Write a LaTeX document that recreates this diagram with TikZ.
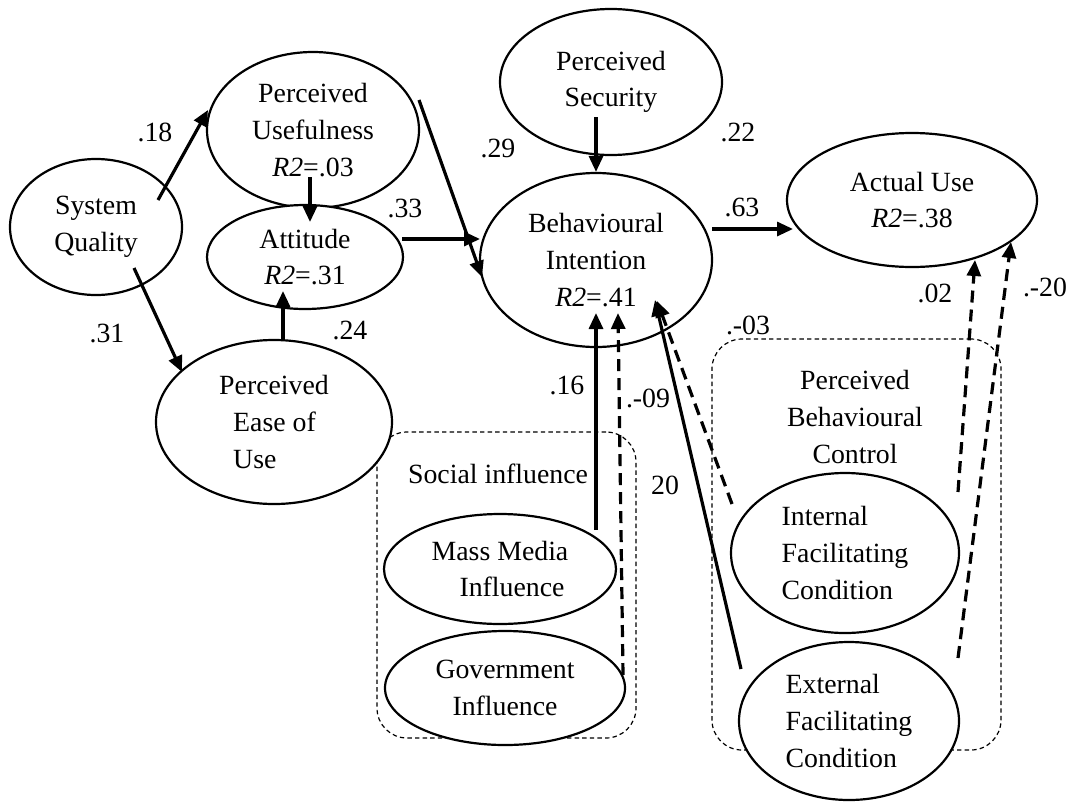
\documentclass[tikz,border=0pt]{standalone}
\usepackage{fontspec}
\setmainfont{Liberation Serif}
\usetikzlibrary{arrows.meta,shapes.geometric}
\newcommand{\rsq}[1]{\textit{R2}=#1}
\tikzset{
	var/.style={ellipse,draw,fill=white,line width=1.1pt,inner sep=0pt,align=center},
	grp/.style={rectangle,draw,line width=0.6pt,dash pattern=on 2.2pt off 1.6pt,rounded corners=15pt,inner sep=0pt},
	arr/.style={-{Triangle[length=8pt,width=7pt]},line width=1.6pt},
	darr/.style={arr,dash pattern=on 6pt off 3.5pt}
}

\begin{document}
\begin{tikzpicture}[x=0.5pt,y=-0.5pt,font=\fontsize{13.9}{18.3}\selectfont]
	\useasboundingbox (0,0) rectangle (1070,809);
	\node[grp,minimum width=129.5pt,minimum height=153pt] (social) at (506.5,585) {};
	\node[grp,minimum width=144.5pt,minimum height=205.5pt] (control) at (856.5,544.5) {};
	\node (sociallab) at (498,474) {Social influence};
	\node[align=center] (controllab) at (855,417) {Perceived\\Behavioural\\Control};
	\node[var,minimum width=86pt,minimum height=68pt] (sq) at (96,227) {System\\Quality};
	\node[var,minimum width=106pt,minimum height=78pt] (pu) at (313,130) {Perceived\\Usefulness\\\rsq{.03}};
	\node[var,minimum width=98pt,minimum height=52pt] (att) at (305,257) {Attitude\\\rsq{.31}};
	\node[var,minimum width=118pt,minimum height=82pt,align=left] (peou) at (274,422) {Perceived\\\hspace*{7pt}Ease of\\\hspace*{7pt}Use};
	\node[var,minimum width=111pt,minimum height=73pt] (ps) at (611,82) {Perceived\\Security};
	\node[var,minimum width=116pt,minimum height=87pt] (bi) at (596,260) {Behavioural\\Intention\\\rsq{.41}};
	\node[var,minimum width=125pt,minimum height=67pt] (au) at (912,200) {Actual Use\\\rsq{.38}};
	\node[var,minimum width=116pt,minimum height=55pt] (mmi) at (500,569) {Mass Media\\\hspace*{12pt}Influence};
	\node[var,minimum width=120pt,minimum height=57pt] (gi) at (505,688) {Government\\Influence};
	\node[var,minimum width=114pt,minimum height=80pt,align=left] (ifc) at (845,553) {Internal\\Facilitating\\Condition};
	\node[var,minimum width=110pt,minimum height=79pt,align=left] (efc) at (849,721) {External\\Facilitating\\Condition};
	\node (w18) at (155,132) {.18};
	\node (w31) at (107,333) {.31};
	\node (w33) at (405,208) {.33};
	\node (w24) at (350,330) {.24};
	\node (w29) at (498,148) {.29};
	\node (w22) at (738,132) {.22};
	\node (w63) at (742,207) {.63};
	\node (w16) at (567,385) {.16};
	\node (w09) at (648,398) {.-09};
	\node (w20) at (665,485) {20};
	\node (w03) at (748,325) {.-03};
	\node (w02) at (935,293) {.02};
	\node (wm20) at (1045,287) {.-20};
	\draw[arr] ([shift={(62,-27)}]sq.center) -- ([shift={(-105,-20)}]pu.center);
	\draw[arr] ([shift={(38,41)}]sq.center) -- ([shift={(-92,-50)}]peou.center);
	\draw[arr] ([shift={(-3,47)}]pu.center) -- ([shift={(5,-35)}]att.center);
	\draw[arr] ([shift={(9,-82)}]peou.center) -- ([shift={(-22,34)}]att.center);
	\draw[arr] ([shift={(97,-18)}]att.center) -- ([shift={(-116,-21)}]bi.center);
	\draw[arr] ([shift={(106,-30)}]pu.center) -- ([shift={(-114,17)}]bi.center);
	\draw[arr] ([shift={(-15,35)}]ps.center) -- (bi.north);
	\draw[arr] ([shift={(116,-31)}]bi.center) -- ([shift={(-119,29)}]au.center);
	\draw[arr] ([shift={(96,-39)}]mmi.center) -- ([shift={(0,53)}]bi.center);
	\draw[darr] ([shift={(118,-13)}]gi.center) -- ([shift={(22,53)}]bi.center);
	\draw[arr] ([shift={(-108,-52)}]efc.center) -- ([shift={(59,40)}]bi.center);
	\draw[darr] ([shift={(-113,-49)}]ifc.center) -- ([shift={(61,41)}]bi.center);
	\draw[darr] ([shift={(113,-61)}]ifc.center) -- ([shift={(63,60)}]au.center);
	\draw[darr] ([shift={(109,-63)}]efc.center) -- ([shift={(99,42)}]au.center);
\end{tikzpicture}
\end{document}
